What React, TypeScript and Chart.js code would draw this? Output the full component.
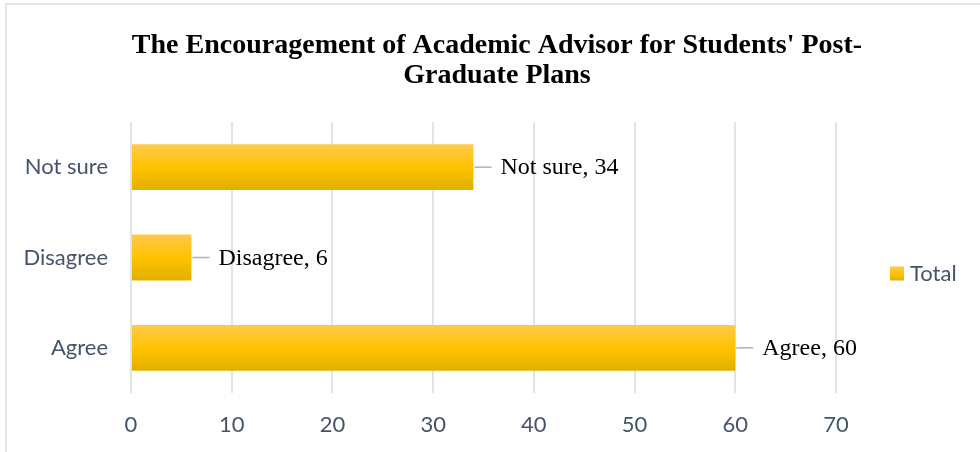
import React, { useEffect, useRef } from "react";
import { Chart, registerables } from "chart.js";

Chart.register(...registerables);

const titleLines = [
  "The Encouragement of Academic Advisor for Students' Post-",
  "Graduate Plans",
];
const categories = ["Not sure", "Disagree", "Agree"];
const totals = [34, 6, 60];
const xTicks = [0, 10, 20, 30, 40, 50, 60, 70];
const seriesName = "Total";

const BAR_PCT = 0.508;
const SLATE = "#44546A";
const GRID = "#DFE3EA";
const TICK_FONT = "Lato";

function barGradient(ctx: CanvasRenderingContext2D, top: number, bottom: number) {
  if (!isFinite(top) || !isFinite(bottom) || top === bottom) return "#FFC000";
  const g = ctx.createLinearGradient(0, top, 0, bottom);
  g.addColorStop(0, "#FFC94D");
  g.addColorStop(0.5, "#FFC300");
  g.addColorStop(1, "#E2AF00");
  return g;
}

const framePlugin = {
  id: "frame",
  beforeDraw(chart: any) {
    const ctx = chart.ctx as CanvasRenderingContext2D;
    ctx.save();
    ctx.fillStyle = "#ffffff";
    ctx.fillRect(0, 0, chart.width, chart.height);
    ctx.strokeStyle = "#E1E5EC";
    ctx.lineWidth = 2;
    ctx.beginPath();
    ctx.moveTo(5, 4);
    ctx.lineTo(chart.width, 4);
    ctx.moveTo(6, 4);
    ctx.lineTo(6, chart.height);
    ctx.stroke();
    // title
    ctx.fillStyle = "#000000";
    ctx.font = 'bold 28px "Liberation Serif"';
    ctx.textAlign = "center";
    ctx.textBaseline = "middle";
    const cx = chart.width / 2 + 7;
    titleLines.forEach((line, i) => {
      ctx.fillText(line, cx, 46 + i * 30);
    });
    ctx.restore();
  },
};

const labelPlugin = {
  id: "barLabels",
  afterDatasetsDraw(chart: any) {
    const ctx = chart.ctx as CanvasRenderingContext2D;
    const meta = chart.getDatasetMeta(0);
    ctx.save();
    meta.data.forEach((bar: any, i: number) => {
      const x = bar.x;
      const y = bar.y;
      ctx.strokeStyle = "#A9B4C3";
      ctx.lineWidth = 1.5;
      ctx.beginPath();
      ctx.moveTo(x + 1, y);
      ctx.lineTo(x + 18, y);
      ctx.stroke();
      ctx.font = '24px "Liberation Serif"';
      ctx.fillStyle = "#000000";
      ctx.textBaseline = "middle";
      ctx.textAlign = "left";
      ctx.fillText(`${categories[i]}, ${totals[i]}`, x + 27, y + 1);
    });
    ctx.restore();
  },
};

const legendPlugin = {
  id: "customLegend",
  afterDraw(chart: any) {
    const ctx = chart.ctx as CanvasRenderingContext2D;
    const area = chart.chartArea;
    const x = area.right + 54;
    const cy = (area.top + area.bottom) / 2 + 16;
    ctx.save();
    ctx.fillStyle = barGradient(ctx, cy - 7, cy + 7);
    ctx.fillRect(x, cy - 7, 14, 14);
    ctx.font = `22px "${TICK_FONT}"`;
    ctx.fillStyle = SLATE;
    ctx.textBaseline = "middle";
    ctx.textAlign = "left";
    ctx.fillText(seriesName, x + 20, cy);
    ctx.restore();
  },
};

export default function App() {
  const canvasRef = useRef<HTMLCanvasElement | null>(null);

  useEffect(() => {
    const canvas = canvasRef.current;
    if (!canvas) return;
    const chart = new Chart(canvas, {
      type: "bar",
      data: {
        labels: categories,
        datasets: [
          {
            label: seriesName,
            data: totals,
            categoryPercentage: 1,
            barPercentage: BAR_PCT,
            borderWidth: 0,
            backgroundColor: (c: any) => {
              const ch = c.chart;
              const ys = ch.scales && ch.scales.y;
              if (!ys || c.dataIndex === undefined) return "#FFC000";
              const cy = ys.getPixelForValue(c.dataIndex);
              const half = (ys.height / categories.length) * BAR_PCT / 2;
              return barGradient(ch.ctx, cy - half, cy + half);
            },
          },
        ],
      },
      options: {
        indexAxis: "y",
        responsive: false,
        animation: false,
        devicePixelRatio: 1,
        layout: { padding: { left: 0, right: 144, top: 122, bottom: 0 } },
        plugins: {
          legend: { display: false },
          tooltip: { enabled: false },
          title: { display: false },
        },
        scales: {
          x: {
            min: xTicks[0],
            max: xTicks[xTicks.length - 1],
            ticks: {
              stepSize: xTicks[1] - xTicks[0],
              color: SLATE,
              font: { family: TICK_FONT, size: 22 },
              padding: 19,
            },
            grid: { color: GRID, lineWidth: 2, drawTicks: false },
            border: { display: false },
            afterFit: (scale: any) => {
              scale.height = 59;
            },
          },
          y: {
            ticks: {
              color: SLATE,
              font: { family: TICK_FONT, size: 22 },
              padding: 23,
            },
            grid: { display: false, drawTicks: false },
            border: { display: false },
            afterFit: (scale: any) => {
              scale.width = 131;
            },
          },
        },
      },
      plugins: [framePlugin, labelPlugin, legendPlugin],
    });
    return () => chart.destroy();
  }, []);

  return (
    <div style={{ position: "fixed", left: 0, top: 0, width: 980, height: 452, background: "#fff" }}>
      <canvas ref={canvasRef} width={980} height={452} style={{ display: "block" }} />
    </div>
  );
}
